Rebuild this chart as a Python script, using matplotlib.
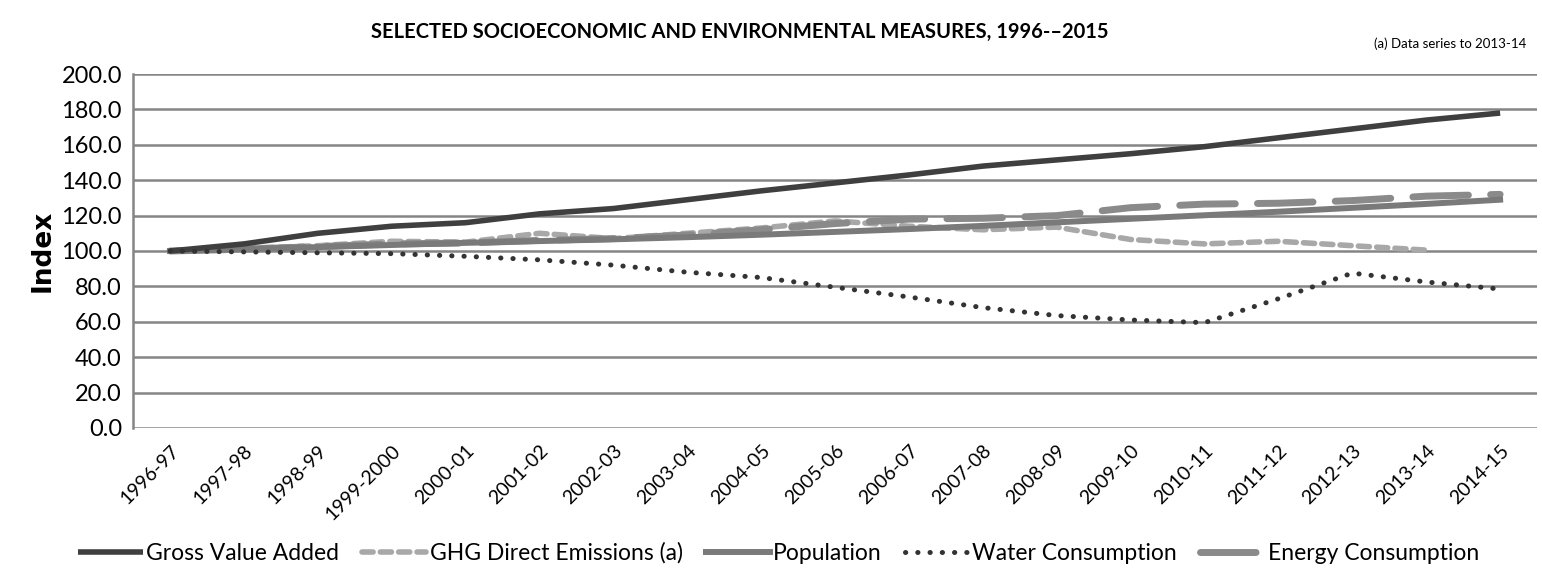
"""
Selected socioeconomic and environmental measures, index 1996-97 = 100
"""

import matplotlib
matplotlib.use('Agg')
import matplotlib.pyplot as plt
import numpy as np

# Data
years = ['1996-97', '1997-98', '1998-99', '1999-2000', '2000-01', '2001-02',
         '2002-03', '2003-04', '2004-05', '2005-06', '2006-07', '2007-08',
         '2008-09', '2009-10', '2010-11', '2011-12', '2012-13', '2013-14',
         '2014-15']

gva = [100, 104, 110, 114, 116, 121, 124, 129, 134, 138.5, 143, 148, 151.5,
       155, 159, 164, 169, 174, 178]
ghg = [100, 101.5, 103, 105.5, 105, 110, 107, 110, 113, 117, 114, 112, 113.5,
       106.5, 104, 105.5, 103, 100.5, np.nan]
population = [100, 101, 102.2, 103.4, 104.6, 105.6, 106.6, 107.8, 109.2,
              110.8, 112.4, 114.2, 116.2, 118.2, 120.2, 122.2, 124.4, 126.6,
              129]
water = [100, 99.5, 99, 98.5, 97, 95, 92, 88, 85, 79.5, 74, 68, 63.5, 61,
         59.5, 73, 87.5, 82.5, 78.5]
energy = [100, 101, 102.5, 104, 104.5, 106, 107, 109, 112, 115.5, 118, 118.5,
          120, 124.5, 126.5, 127, 128.5, 131, 132]

yticks = np.arange(0, 201, 20)

plt.rcParams['font.family'] = ['Lato', 'DejaVu Sans']

fig = plt.figure(figsize=(15.42, 5.79), dpi=100)
ax = fig.add_axes([0.0863, 0.261, 0.9105, 0.611])

x = np.arange(len(years))

ax.plot(x, gva, color='#3f3f3f', linewidth=4, solid_capstyle='butt',
        label='Gross Value Added', zorder=5)
ax.plot(x, ghg, color='#a8a8a8', linewidth=4, linestyle=(0, (2.0, 1.3)),
        dash_capstyle='round', label='GHG Direct Emissions (a)', zorder=3)
ax.plot(x, population, color='#7a7a7a', linewidth=4.3,
        label='Population', zorder=4)
ax.plot(x, water, color='#333333', linewidth=3.6, linestyle=(0, (0.05, 2.4)),
        dash_capstyle='round', label='Water Consumption', zorder=6)
ax.plot(x, energy, color='#8a8a8a', linewidth=5, linestyle=(0, (8, 3.2)),
        dash_capstyle='round', label='Energy Consumption', zorder=3)

ax.set_xlim(-0.5, len(years) - 0.5)
ax.set_ylim(0, 200)
ax.set_yticks(yticks)
ax.set_yticklabels([f'{v:.1f}' for v in yticks], fontsize=17)
ax.set_xticks(x)
ax.set_xticklabels(years, rotation=45, ha='right', rotation_mode='anchor',
                   fontsize=14)
ax.tick_params(length=0, pad=8)
ax.tick_params(axis='x', pad=10)

ax.grid(axis='y', color='#858585', linewidth=1.8)
ax.set_axisbelow(True)
for side in ['top', 'right', 'bottom']:
    ax.spines[side].set_visible(False)
ax.spines['left'].set_color('#858585')
ax.spines['left'].set_linewidth(1.8)

ax.set_ylabel('Index', fontsize=19, fontweight='bold', family='DejaVu Sans',
              labelpad=4)

fig.text(0.48, 0.945, 'SELECTED SOCIOECONOMIC AND ENVIRONMENTAL MEASURES, 1996-\u20132015',
         ha='center', va='center', fontsize=14.5, fontweight='bold')
fig.text(0.99, 0.925, '(a) Data series to 2013-14', ha='right', va='center',
         fontsize=9.5)

fig.legend(loc='center', bbox_to_anchor=(0.505, 0.045), ncol=5, frameon=False,
           fontsize=16.5, handlelength=2.8, handletextpad=0.15,
           columnspacing=1.0)

fig.savefig('out.png', dpi=100)
